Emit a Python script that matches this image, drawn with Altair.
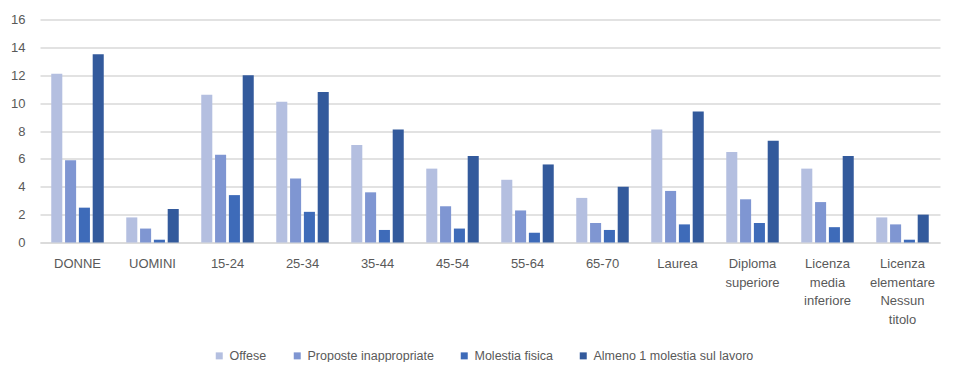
import altair as alt
import pandas as pd

categories = ["DONNE", "UOMINI", "15-24", "25-34", "35-44", "45-54", "55-64", "65-70",
              "Laurea", "Diploma|superiore", "Licenza|media|inferiore",
              "Licenza|elementare|Nessun|titolo"]
series = ["Offese", "Proposte inappropriate", "Molestia fisica", "Almeno 1 molestia sul lavoro"]
offese = [12.1, 1.8, 10.6, 10.1, 7.0, 5.3, 4.5, 3.2, 8.1, 6.5, 5.3, 1.8]
proposte = [5.9, 1.0, 6.3, 4.6, 3.6, 2.6, 2.3, 1.4, 3.7, 3.1, 2.9, 1.3]
molestia = [2.5, 0.2, 3.4, 2.2, 0.9, 1.0, 0.7, 0.9, 1.3, 1.4, 1.1, 0.2]
almeno = [13.5, 2.4, 12.0, 10.8, 8.1, 6.2, 5.6, 4.0, 9.4, 7.3, 6.2, 2.0]
colors = ["#B4BFE0", "#7F96D2", "#3E6BB9", "#335A9C"]

rows = []
for s, vals in zip(series, [offese, proposte, molestia, almeno]):
    for c, v in zip(categories, vals):
        rows.append({"cat": c, "serie": s, "val": v})
df = pd.DataFrame(rows)

font = "Liberation Sans"
grey = "#595959"

chart = alt.Chart(df).mark_bar().encode(
    x=alt.X("cat:N", sort=categories, title=None,
            scale=alt.Scale(paddingInner=0.3, paddingOuter=0.15),
            axis=alt.Axis(labelAngle=0, labelExpr="split(datum.value, '|')",
                          labelFont=font, labelFontSize=13, labelColor=grey,
                          labelLineHeight=18.5, labelPadding=15, ticks=False,
                          domainColor="#D9D9D9", domainWidth=1.5, labelBaseline="top")),
    xOffset=alt.XOffset("serie:N", sort=series,
                        scale=alt.Scale(paddingInner=0.2, paddingOuter=0)),
    y=alt.Y("val:Q", title=None,
            scale=alt.Scale(domain=[0, 16], nice=False),
            axis=alt.Axis(values=[0, 2, 4, 6, 8, 10, 12, 14, 16], labelFont=font,
                          labelFontSize=13, labelColor=grey, labelPadding=15,
                          ticks=False, domain=False, gridColor="#D9D9D9",
                          gridWidth=1.5)),
    color=alt.Color("serie:N", sort=series, title=None,
                    scale=alt.Scale(domain=series, range=colors),
                    legend=alt.Legend(orient="none", legendX=173, legendY=330,
                                      direction="horizontal", symbolType="square",
                                      symbolSize=49, symbolStrokeWidth=0,
                                      labelFont=font, labelFontSize=12.5,
                                      labelColor=grey, columnPadding=24,
                                      labelOffset=4)),
).properties(
    width=900, height=223,
    autosize=alt.AutoSizeParams(type="none"),
    padding={"left": 32, "top": 11.5, "right": 6, "bottom": 119.5},
).configure_view(stroke=None)

chart.save("out.html", embed_options={"renderer": "svg", "actions": False})
